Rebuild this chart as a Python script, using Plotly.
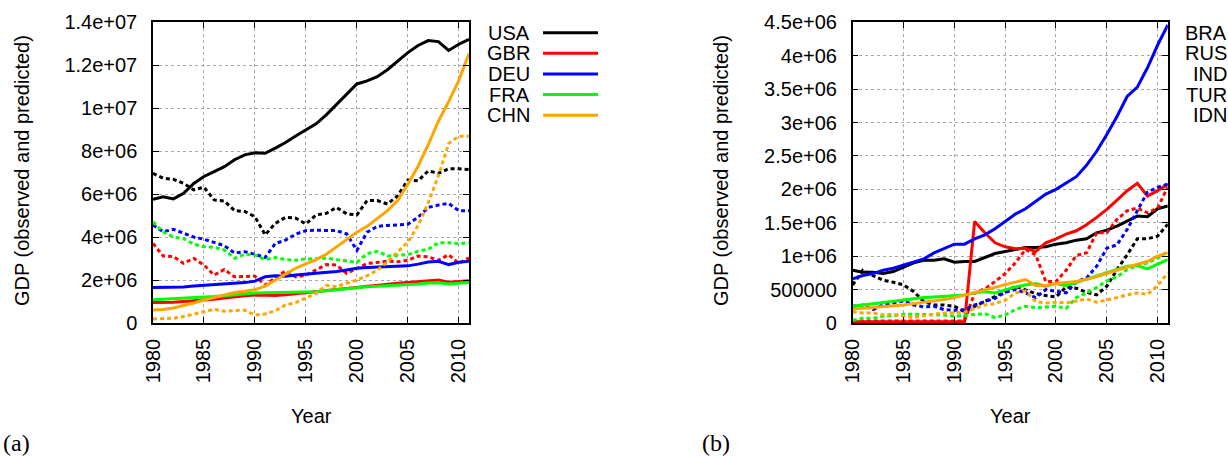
import plotly.graph_objects as go

# ---------------- data (values in millions) ----------------
years = list(range(1980, 2012))
SCALE = 1e6

# panel (a)
countries_a = ["USA", "GBR", "DEU", "FRA", "CHN"]
USA_obs = [5.76,5.88,5.78,6.04,6.5,6.82,7.05,7.28,7.6,7.83,7.93,7.9,8.14,8.4,8.71,8.99,9.27,9.69,10.16,10.62,11.13,11.27,11.47,11.79,12.2,12.59,12.92,13.15,13.1,12.69,12.98,13.21]
USA_pred = [6.97,6.74,6.69,6.5,6.2,6.32,5.73,5.68,5.23,5.19,4.95,4.1,4.64,4.92,4.88,4.61,5.03,5.11,5.38,5.08,5.03,5.7,5.7,5.54,5.92,6.66,6.62,7.08,6.97,7.18,7.18,7.15]
GBR_obs = [0.95,0.95,0.97,1.0,1.03,1.07,1.11,1.16,1.22,1.27,1.3,1.28,1.28,1.31,1.36,1.4,1.45,1.5,1.55,1.61,1.68,1.72,1.76,1.81,1.85,1.88,1.92,1.97,2.0,1.9,1.93,1.97]
GBR_pred = [3.7,3.12,3.09,2.78,3.01,2.7,2.23,2.49,2.15,2.15,2.18,1.77,2.08,2.43,2.15,2.23,2.47,2.72,2.7,2.31,2.54,2.77,2.82,2.88,2.85,2.92,3.12,3.08,2.92,3.18,2.77,3.03]
DEU_obs = [1.65,1.65,1.65,1.68,1.72,1.75,1.78,1.8,1.85,1.88,1.95,2.15,2.2,2.18,2.23,2.27,2.3,2.35,2.4,2.47,2.55,2.58,2.6,2.61,2.63,2.66,2.74,2.84,2.87,2.72,2.83,2.88]
DEU_pred = [4.56,4.25,4.36,4.17,4.0,3.9,3.74,3.6,3.26,3.32,3.2,3.05,3.7,3.86,4.14,4.3,4.32,4.32,4.3,4.15,3.38,4.23,4.5,4.54,4.57,4.6,4.92,5.38,5.49,5.57,5.23,5.23]
FRA_obs = [1.08,1.1,1.12,1.15,1.17,1.2,1.23,1.27,1.32,1.37,1.4,1.41,1.42,1.4,1.42,1.44,1.46,1.5,1.55,1.6,1.66,1.69,1.71,1.73,1.76,1.79,1.82,1.86,1.87,1.82,1.85,1.89]
FRA_pred = [4.71,4.25,4.0,3.93,3.67,3.55,3.52,3.4,3.01,3.2,3.16,2.95,3.05,2.95,2.92,2.98,3.0,3.02,2.95,2.88,2.82,3.23,3.34,3.12,3.15,3.18,3.34,3.43,3.74,3.74,3.69,3.74]
CHN_obs = [0.6,0.63,0.7,0.8,0.93,1.07,1.18,1.3,1.42,1.48,1.55,1.72,2.0,2.3,2.55,2.75,2.95,3.2,3.55,3.9,4.23,4.5,4.85,5.23,5.7,6.46,7.3,8.3,9.4,10.3,11.3,12.55]
CHN_pred = [0.19,0.2,0.22,0.3,0.42,0.55,0.64,0.55,0.58,0.6,0.37,0.42,0.57,0.84,0.95,1.15,1.38,1.75,1.69,1.85,2.0,2.2,2.46,2.85,3.3,3.77,4.54,5.6,6.85,8.35,8.7,8.7]

# panel (b)
countries_b = ["BRA", "RUS", "IND", "TUR", "IDN"]
BRA_obs = [0.79,0.76,0.76,0.74,0.77,0.83,0.90,0.94,0.94,0.96,0.91,0.92,0.92,0.98,1.04,1.07,1.10,1.13,1.13,1.14,1.18,1.20,1.24,1.26,1.35,1.39,1.45,1.52,1.60,1.59,1.71,1.75]
BRA_pred = [0.57,0.79,0.71,0.64,0.61,0.57,0.47,0.32,0.27,0.27,0.25,0.17,0.25,0.32,0.40,0.47,0.55,0.50,0.44,0.41,0.39,0.54,0.52,0.46,0.42,0.55,0.80,1.02,1.26,1.26,1.30,1.48]
RUS_obs = [0.02,0.02,0.02,0.02,0.02,0.02,0.02,0.02,0.02,0.02,0.02,0.02,1.52,1.35,1.2,1.14,1.11,1.12,1.07,1.2,1.26,1.33,1.38,1.47,1.58,1.7,1.84,1.98,2.09,1.9,1.98,2.08]
RUS_pred = [0.03,0.03,0.03,0.03,0.03,0.03,0.03,0.03,0.03,0.03,0.03,0.03,0.45,0.51,0.62,0.74,0.9,1.1,1.02,0.62,0.62,0.79,1.01,1.05,1.35,1.35,1.55,1.68,1.72,1.65,1.72,2.04]
IND_obs = [0.66,0.71,0.74,0.79,0.82,0.87,0.92,0.96,1.05,1.12,1.18,1.18,1.26,1.32,1.41,1.52,1.63,1.71,1.82,1.93,2.0,2.1,2.19,2.36,2.57,2.82,3.09,3.39,3.53,3.82,4.16,4.46]
IND_pred = [0.25,0.27,0.2,0.27,0.3,0.33,0.27,0.24,0.25,0.2,0.19,0.2,0.27,0.32,0.37,0.46,0.5,0.45,0.38,0.5,0.48,0.45,0.62,0.67,0.85,1.12,1.17,1.4,1.68,1.96,2.03,2.08]
TUR_obs = [0.25,0.27,0.29,0.30,0.32,0.34,0.36,0.38,0.39,0.40,0.42,0.42,0.45,0.47,0.45,0.50,0.54,0.57,0.59,0.55,0.59,0.56,0.61,0.65,0.71,0.76,0.81,0.85,0.86,0.81,0.88,0.95]
TUR_pred = [0.04,0.07,0.07,0.1,0.11,0.13,0.13,0.13,0.13,0.12,0.1,0.11,0.12,0.14,0.08,0.12,0.2,0.25,0.23,0.24,0.25,0.22,0.38,0.45,0.53,0.63,0.69,0.8,0.86,0.9,0.97,1.07]
IDN_obs = [0.21,0.22,0.24,0.25,0.26,0.27,0.29,0.31,0.32,0.35,0.38,0.42,0.46,0.50,0.54,0.58,0.62,0.65,0.56,0.56,0.59,0.60,0.62,0.65,0.69,0.74,0.79,0.84,0.88,0.92,1.0,1.05]
IDN_pred = [0.17,0.15,0.15,0.12,0.13,0.1,0.08,0.11,0.13,0.15,0.15,0.16,0.22,0.27,0.29,0.34,0.45,0.48,0.32,0.3,0.31,0.3,0.33,0.36,0.31,0.34,0.38,0.42,0.45,0.43,0.56,0.75]

xticks = [1980, 1985, 1990, 1995, 2000, 2005, 2010]
yticks_a = [0, 2e6, 4e6, 6e6, 8e6, 1e7, 1.2e7, 1.4e7]
yticklabels_a = ["0", "2e+06", "4e+06", "6e+06", "8e+06", "1e+07", "1.2e+07", "1.4e+07"]
yticks_b = [0, 5e5, 1e6, 1.5e6, 2e6, 2.5e6, 3e6, 3.5e6, 4e6, 4.5e6]
yticklabels_b = ["0", "500000", "1e+06", "1.5e+06", "2e+06", "2.5e+06", "3e+06", "3.5e+06", "4e+06", "4.5e+06"]

colors = ["#000000", "#ff0000", "#0000ff", "#00ff00", "#ffa500"]

obs_a = [USA_obs, GBR_obs, DEU_obs, FRA_obs, CHN_obs]
pred_a = [USA_pred, GBR_pred, DEU_pred, FRA_pred, CHN_pred]
obs_b = [BRA_obs, RUS_obs, IND_obs, TUR_obs, IDN_obs]
pred_b = [BRA_pred, RUS_pred, IND_pred, TUR_pred, IDN_pred]

# ---------------- layout geometry ----------------
W, H = 1228, 457
FONT = "Liberation Sans, Arial, Helvetica, sans-serif"
SERIF = "Liberation Serif, Times New Roman, serif"
FS = 20

def px(x):
    return x / W

def py(y):
    return 1 - y / H

top, bot = 22.3, 323.0
dom_y = [py(bot), py(top)]
dom_xa = [px(153.0), px(469.0)]
dom_xb = [px(852.7), px(1167.8)]

fig = go.Figure()

LW = 3
DOT = "4px,3px"

for i, c in enumerate(countries_a):
    fig.add_trace(go.Scatter(x=years, y=[v * SCALE for v in obs_a[i]], mode="lines",
                             line=dict(color=colors[i], width=LW), name=c,
                             xaxis="x", yaxis="y", showlegend=False))
    fig.add_trace(go.Scatter(x=years, y=[v * SCALE for v in pred_a[i]], mode="lines",
                             line=dict(color=colors[i], width=LW, dash=DOT), name=c + " pred",
                             xaxis="x", yaxis="y", showlegend=False))
for i, c in enumerate(countries_b):
    fig.add_trace(go.Scatter(x=years, y=[v * SCALE for v in obs_b[i]], mode="lines",
                             line=dict(color=colors[i], width=LW), name=c,
                             xaxis="x2", yaxis="y2", showlegend=False))
    fig.add_trace(go.Scatter(x=years, y=[v * SCALE for v in pred_b[i]], mode="lines",
                             line=dict(color=colors[i], width=LW, dash=DOT), name=c + " pred",
                             xaxis="x2", yaxis="y2", showlegend=False))

axis_common = dict(
    showline=True, linecolor="black", linewidth=1.5, mirror="ticks",
    ticks="inside", ticklen=6, tickwidth=1.2, tickcolor="black",
    showgrid=True, gridcolor="#a8a8a8", griddash="dot", gridwidth=1,
    zeroline=False, tickfont=dict(family=FONT, size=FS, color="black"),
    automargin=False,
)
xaxis_common = dict(axis_common, ticklabelstandoff=6, tickangle=-90, range=[1980, 2011],
                    tickvals=xticks, ticktext=[str(t) for t in xticks])
yaxis_common = dict(axis_common, ticklabelstandoff=10)

fig.update_layout(
    template="none",
    width=W, height=H, autosize=False,
    margin=dict(l=0, r=0, t=0, b=0, pad=0),
    paper_bgcolor="white", plot_bgcolor="white",
    font=dict(family=FONT, size=FS, color="black"),
    showlegend=False,
    xaxis=dict(domain=dom_xa, anchor="y", **xaxis_common),
    yaxis=dict(domain=dom_y, range=[0, 1.4e7], tickvals=yticks_a, ticktext=yticklabels_a,
               anchor="x", **yaxis_common),
    xaxis2=dict(domain=dom_xb, anchor="y2", **xaxis_common),
    yaxis2=dict(domain=dom_y, range=[0, 4.5e6], tickvals=yticks_b, ticktext=yticklabels_b,
                anchor="x2", **yaxis_common),
)

annotations = []
shapes = []

def text(x, y, s, xanchor="center", yanchor="middle", angle=0, family=FONT, size=FS):
    annotations.append(dict(x=px(x), y=py(y), xref="paper", yref="paper", text=s,
                            showarrow=False, xanchor=xanchor, yanchor=yanchor, textangle=angle,
                            borderpad=0, font=dict(family=family, size=size, color="black")))

# axis titles
text(22, 171, "GDP (observed and predicted)", angle=-90)
text(721, 171, "GDP (observed and predicted)", angle=-90)
text(311, 416, "Year")
text(1010, 416, "Year")
# panel labels
text(2, 457, "(a)", xanchor="left", yanchor="bottom", family=SERIF, size=24)
text(701, 457, "(b)", xanchor="left", yanchor="bottom", family=SERIF, size=24)

# legends (labels left of sample lines; right-hand key runs off the page)
leg_rows = [32.7, 53.3, 74.0, 94.6, 115.2]
for i, c in enumerate(countries_a):
    text(531, leg_rows[i], c, xanchor="right")
    shapes.append(dict(type="line", xref="paper", yref="paper", x0=px(543), x1=px(598),
                       y0=py(leg_rows[i]), y1=py(leg_rows[i]), line=dict(color=colors[i], width=LW)))
for i, c in enumerate(countries_b):
    text(1228, leg_rows[i], c, xanchor="right")

fig.update_layout(annotations=annotations, shapes=shapes)

fig.write_html("out.html", config={"displayModeBar": False},
               post_script="document.body.style.margin='0px';document.body.style.overflow='hidden';")
